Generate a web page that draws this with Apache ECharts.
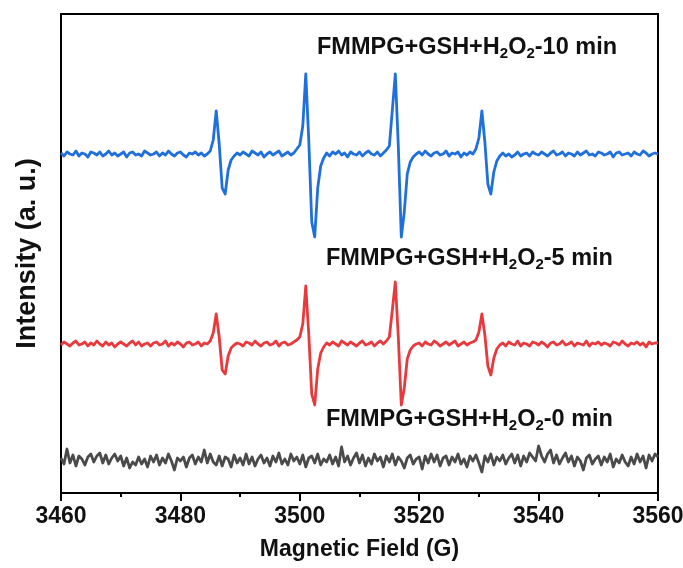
<!DOCTYPE html>
<html>
<head>
<meta charset="utf-8">
<script src="https://cdn.jsdelivr.net/npm/echarts@6/dist/echarts.min.js"></script>
<style>
  html, body { margin: 0; padding: 0; background: #fff; }
  #chart { width: 683px; height: 568px; }
</style>
</head>
<body>
<div id="chart"></div>
<script>
// EPR spectra, field sampled every 0.5 G from 3460 G
const fieldStart = 3460;
const fieldStep = 0.5;
const xTicks = [3460, 3480, 3500, 3520, 3540, 3560];

// Signal (a.u.) of each spectrum around its own baseline, 10 samples per row (5 G)
const spec10min = [
  1, -2, 2, 0, -1, 3, -2, 1, 0, -3,
  2, 1, -1, 2, -2, 0, 3, -1, 1, -2,
  0, 2, -3, 1, 2, -1, 0, -2, 3, 1,
  -1, 0, 2, -2, 1, -1, 3, 0, -2, 1,
  2, -1, -3, 1, 0, 2, -1, 1, -2, 0,
  3, 14, 43, 10, -34, -40, -16, -6, -2, 1,
  -1, 2, 0, -2, 3, 1, -1, 2, -3, 0,
  2, -1, 1, 3, -2, 0, 2, -1, 1, 5,
  9, 28, 80, 14, -68, -83, -34, -12, -4, 1,
  -2, 2, 0, 3, -1, 1, -3, 2, 0, -1,
  2, -2, 1, 3, 0, -1, 2, -2, 1, 4,
  8, 44, 80, 8, -83, -58, -20, -8, -3, 0,
  2, -1, 3, 0, -2, 1, 2, -1, 0, 3,
  -2, 1, 0, 2, -3, 1, -1, 2, 0, 5,
  16, 43, 12, -30, -40, -18, -7, -2, 1, -2,
  0, -3, -1, 2, -2, 0, 1, -2, 2, 0,
  -1, 2, 0, -2, 1, 3, -1, 0, 2, -2,
  1, 0, -2, 2, -1, 1, 3, -1, 0, -2,
  2, 1, -1, 0, 2, -3, 1, 2, -1, 0,
  1, -2, 2, 0, -1, 3, 1, -2, 0, 1,
  0
];

const spec5min = [
  -1, 2, 0, -2, 1, 3, -1, 0, 2, -2,
  1, -1, 3, 0, -2, 2, -1, 1, -3, 0,
  2, 0, -2, 1, 3, -1, 2, -2, 0, 1,
  -2, 1, 2, -1, 0, 3, -2, 1, -1, 2,
  0, -3, 1, 2, -1, 0, 2, -2, 1, 0,
  3, 11, 30, 7, -26, -30, -12, -4, -1, 1,
  0, -2, 2, 1, -1, 3, 0, -2, 1, 2,
  -1, 0, 3, -2, 1, 2, -1, 0, 2, 4,
  7, 20, 58, 10, -50, -61, -25, -9, -3, 1,
  -1, 2, 0, -2, 3, 1, -1, 2, 0, -2,
  1, 3, -1, 0, 2, -2, 1, 3, 0, 3,
  7, 34, 62, 7, -61, -44, -15, -6, -2, 0,
  1, -2, 2, 0, -1, 3, 1, -2, 0, 2,
  -1, 1, 3, -2, 0, 2, -1, 1, 2, 4,
  12, 30, 9, -22, -31, -14, -5, -1, 1, -2,
  2, 0, -1, 3, -2, 1, 0, -2, 2, 1,
  -1, 2, 0, -3, 1, 2, -1, 0, 3, -1,
  0, 2, -2, 1, 0, -1, 3, -2, 1, 0,
  2, -1, 1, 0, -2, 2, 1, -1, 3, 0,
  -2, 1, 0, 2, -1, 1, -3, 2, 0, 1,
  1
];

const spec0min = [
  2, -4, 11, -3, 5, -6, 4, 1, -5, 3,
  6, -2, 4, 7, -3, 5, -4, 2, 6, -1,
  4, -6, 2, -8, -2, -5, 3, -4, 1, -7,
  4, -2, 5, -5, 2, -3, 6, -1, -10, 2,
  -1, 3, -7, 2, 5, -4, 3, -2, 10, -3,
  6, -2, -5, 4, -6, 3, 1, -7, 5, -3,
  2, -5, 6, -4, 3, -6, 1, 5, -3, 2,
  -6, 4, -2, 7, -4, 1, -5, 6, -1, 3,
  -4, 5, -7, 2, 4, -3, 6, -5, 1, -2,
  5, -4, 3, -6, 13, -2, 4, -5, 2, 7,
  -3, 5, -6, 2, -4, 6, -1, 3, -7, 4,
  -2, 6, -5, 3, -1, -8, 2, 5, -4, 1,
  3, -9, 4, -3, 6, -2, 5, -6, 2, 4,
  -5, 3, -2, 6, -4, 1, -7, 4, -1, 5,
  -3, -12, 4, -2, 6, -5, 3, -1, 5, -4,
  2, 6, -3, 5, -6, 4, -2, 7, 3, -1,
  14, 4, -2, 6, 10, -3, 5, -4, 2, 7,
  -2, 4, -6, 3, -1, -10, 2, 5, -4, 1,
  4, -5, 3, -2, 6, -7, 1, -3, 5, -2,
  -6, 3, -4, 6, -2, 4, -8, 5, -1, 6,
  3
];

// Vertical stacking offsets (a.u.) for 10 min, 5 min, 0 min
const offsets = [339, 149, 33];
const seriesNames = ['FMMPG+GSH+H2O2-10 min', 'FMMPG+GSH+H2O2-5 min', 'FMMPG+GSH+H2O2-0 min'];
const seriesColors = ['#1f6fdc', '#e8393d', '#4a4a4a'];
const spectra = [spec10min, spec5min, spec0min];

function toPairs(values, offset) {
  return values.map((v, i) => [fieldStart + i * fieldStep, v + offset]);
}

const FONT = '"Liberation Sans", Arial, Helvetica, sans-serif';

function labelText(minutes) {
  return '{a|FMMPG+GSH+H}{s|2}{a|O}{s|2}{a|-' + minutes + ' min}';
}
const labelRich = {
  a: { fontSize: 23.5, fontWeight: 'bold', fontFamily: FONT, fill: '#111', lineHeight: 26, verticalAlign: 'middle' },
  s: { fontSize: 15, fontWeight: 'bold', fontFamily: FONT, fill: '#111', lineHeight: 12, verticalAlign: 'bottom' }
};

const chart = echarts.init(document.getElementById('chart'), null, { renderer: 'canvas' });
chart.setOption({
  animation: false,
  backgroundColor: '#fff',
  grid: {
    left: 61, right: 25, top: 14, bottom: 75,
    containLabel: false, outerBoundsMode: 'none',
    show: true, borderColor: '#000', borderWidth: 2, backgroundColor: 'transparent'
  },
  xAxis: {
    type: 'value',
    min: xTicks[0], max: xTicks[xTicks.length - 1], interval: 20,
    name: 'Magnetic Field (G)',
    nameLocation: 'middle', nameGap: 45,
    nameTextStyle: { fontSize: 23, fontWeight: 'bold', fontFamily: FONT, color: '#111' },
    axisLine: { show: true, lineStyle: { color: '#000', width: 2 } },
    axisTick: { show: true, inside: false, length: 8, lineStyle: { color: '#000', width: 2 } },
    minorTick: { show: true, splitNumber: 2, length: 4, lineStyle: { color: '#000', width: 2 } },
    axisLabel: {
      margin: 12, fontSize: 23, fontWeight: 'bold', fontFamily: FONT, color: '#111',
      formatter: v => String(v)
    },
    splitLine: { show: false }
  },
  yAxis: {
    type: 'value', min: 0, max: 479,
    name: 'Intensity (a. u.)',
    nameLocation: 'middle', nameGap: 20, nameRotate: 90,
    nameTextStyle: { fontSize: 27, fontWeight: 'bold', fontFamily: FONT, color: '#111' },
    axisLine: { show: true, lineStyle: { color: '#000', width: 2 } },
    axisTick: { show: false },
    axisLabel: { show: false },
    splitLine: { show: false }
  },
  series: spectra.map((s, k) => ({
    name: seriesNames[k],
    type: 'line',
    data: toPairs(s, offsets[k]),
    showSymbol: false,
    symbol: 'none',
    lineStyle: { color: seriesColors[k], width: 2.8, join: 'round' },
    itemStyle: { color: seriesColors[k] },
    z: 3
  })),
  graphic: [
    { type: 'text', left: 317, top: 36, style: { text: labelText(10), rich: labelRich } },
    { type: 'text', left: 326, top: 247, style: { text: labelText(5), rich: labelRich } },
    { type: 'text', left: 326, top: 408, style: { text: labelText(0), rich: labelRich } }
  ]
});
</script>
</body>
</html>
